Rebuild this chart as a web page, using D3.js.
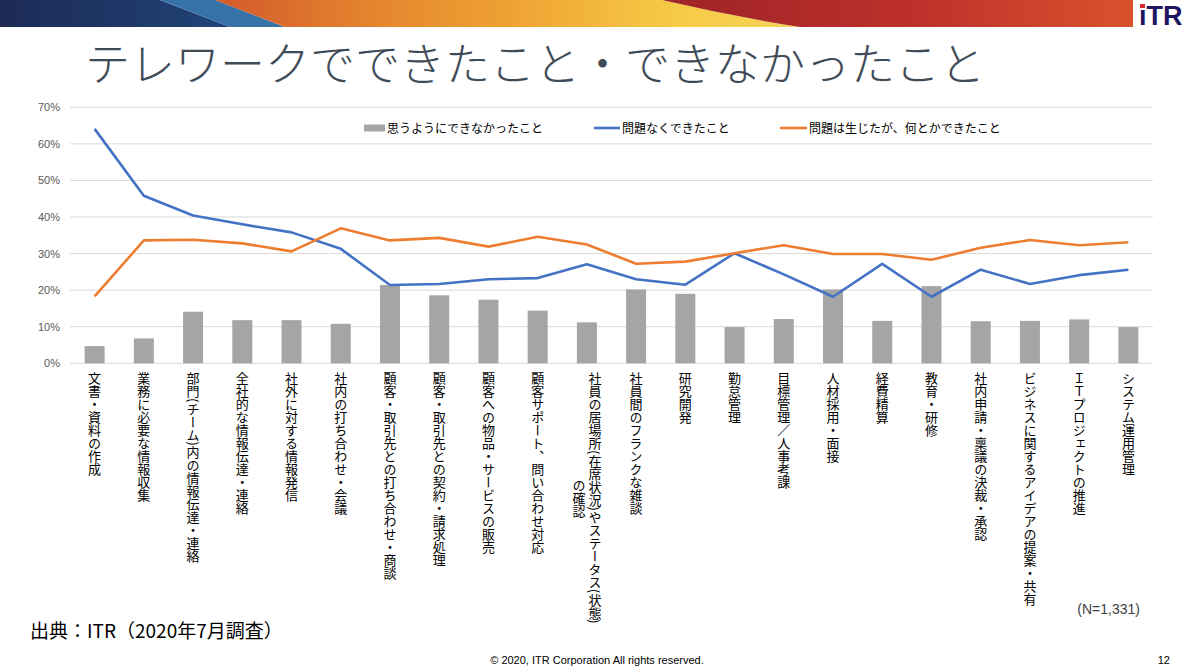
<!DOCTYPE html>
<html><head><meta charset="utf-8">
<script src="https://cdn.jsdelivr.net/npm/d3@7"></script>
<style>
html,body{margin:0;padding:0;background:#fff;}
svg{display:block;}
</style></head>
<body>
<svg id="c" width="1199" height="672"></svg>
<script>
const categories = [
  "文書・資料の作成","業務に必要な情報収集","部門(チーム)内の情報伝達・連絡","全社的な情報伝達・連絡",
  "社外に対する情報発信","社内の打ち合わせ・会議","顧客・取引先との打ち合わせ・商談","顧客・取引先との契約・請求処理",
  "顧客への物品・サービスの販売","顧客サポート、問い合わせ対応","社員の居場所(在席状況)やステータス(状態)\nの確認",
  "社員間のフランクな雑談","研究開発","勤怠管理","目標管理／人事考課","人材採用・面接","経費精算","教育・研修",
  "社内申請・稟議の決裁・承認","ビジネスに関するアイデアの提案・共有","ＩＴプロジェクトの推進","システム運用管理"
];
const notDone   = [4.7, 6.8, 14.1, 11.8, 11.8, 10.8, 21.4, 18.6, 17.4, 14.4, 11.2, 20.2, 19.0, 9.9, 12.1, 20.2, 11.6, 21.1, 11.5, 11.6, 12.0, 9.9];
const noProblem = [64.1, 45.8, 40.4, 38.0, 35.8, 31.3, 21.4, 21.7, 23.0, 23.3, 27.1, 23.0, 21.5, 30.1, 24.3, 18.2, 27.2, 18.2, 25.6, 21.7, 24.1, 25.6];
const managed   = [18.3, 33.6, 33.8, 32.8, 30.6, 36.9, 33.6, 34.3, 31.9, 34.6, 32.5, 27.2, 27.8, 30.1, 32.3, 29.9, 29.9, 28.3, 31.6, 33.7, 32.3, 33.1];
const yTicks = [0,10,20,30,40,50,60,70];
const seriesNames = ["思うようにできなかったこと","問題なくできたこと","問題は生じたが、何とかできたこと"];
const titleText = "テレワークでできたこと・できなかったこと";
const sourceText = "出典：ITR（2020年7月調査）";
const nText = "(N=1,331)";
const copyText = "© 2020, ITR Corporation  All rights reserved.";
const pageNo = "12";

const svg = d3.select("#c");
const JP = "'Noto Sans CJK JP','Noto Sans',sans-serif";
const LAT = "'Liberation Sans','Noto Sans',Arial,sans-serif";

// ---- banner ----
const defs = svg.append("defs");
function lg(id, stops){
  const g = defs.append("linearGradient").attr("id",id).attr("gradientUnits","userSpaceOnUse")
    .attr("x1",stops[0][0]).attr("x2",stops[stops.length-1][0]).attr("y1",0).attr("y2",0);
  stops.forEach(s=>g.append("stop").attr("offset",(s[0]-stops[0][0])/(stops[stops.length-1][0]-stops[0][0])).attr("stop-color",s[1]));
}
lg("gNavy",[[0,"#1d2a55"],[230,"#1f4478"]]);
lg("gOr",[[215,"#d35a2b"],[380,"#e5862e"],[520,"#efa434"],[680,"#f6cb46"],[800,"#f7d458"]]);
lg("gRed",[[660,"#9e2327"],[900,"#bb2f2b"],[1133,"#d9512c"]]);
const H = 27;
svg.append("path").attr("d",`M0,0 L160,0 L230,${H} L0,${H}Z`).attr("fill","url(#gNavy)");
svg.append("path").attr("d",`M160,0 L215,0 L285,${H} L230,${H}Z`).attr("fill","#3773a9");
svg.append("path").attr("d",`M215,0 L662,0 Q730,16 800,${H} L285,${H}Z`).attr("fill","url(#gOr)");
svg.append("path").attr("d",`M662,0 L1133,0 L1133,${H} L800,${H} Q730,16 662,0Z`).attr("fill","url(#gRed)");
// logo
svg.append("text").attr("x",1139).attr("y",25).attr("font-family","'Liberation Sans Narrow','Liberation Sans',sans-serif")
  .attr("font-weight","bold").attr("font-size",27).attr("fill","#1c1760").text("ıTR");
svg.append("rect").attr("x",1140).attr("y",4).attr("width",5).attr("height",4).attr("fill","#d22b2b");

// ---- title ----
svg.append("text").attr("x",85).attr("y",81).attr("font-family",JP).attr("font-weight",300)
  .attr("font-size",45).attr("fill","#3f4b57").attr("textLength",900).attr("lengthAdjust","spacingAndGlyphs").text(titleText);

// ---- chart ----
const x = d3.scaleBand().domain(categories).range([70,1153]).paddingInner(0).paddingOuter(0);
const y = d3.scaleLinear().domain([0,70]).range([363.3,107.3]);
const g = svg.append("g");

// grid
g.selectAll("line.grid").data(yTicks).join("line").attr("class","grid")
  .attr("x1",70).attr("x2",1153).attr("y1",d=>y(d)).attr("y2",d=>y(d))
  .attr("stroke","#d9d9d9").attr("stroke-width",1);

// y axis labels
const yAxis = d3.axisLeft(y).tickValues(yTicks).tickFormat(d=>d+"%").tickSize(0).tickPadding(0);
const ya = g.append("g").attr("transform","translate(60,0)").call(yAxis);
ya.select(".domain").remove();
ya.selectAll("text").attr("font-family",LAT).attr("font-size",11).attr("fill","#595959");

// bars
const bw = 20;
g.selectAll("rect.bar").data(notDone).join("rect").attr("class","bar")
  .attr("x",(d,i)=>x(categories[i])+x.bandwidth()/2-bw/2).attr("width",bw)
  .attr("y",d=>y(d)).attr("height",d=>y(0)-y(d)).attr("fill","#a5a5a5");

// lines
const line = d3.line().x((d,i)=>x(categories[i])+x.bandwidth()/2).y(d=>y(d));
g.append("path").datum(noProblem).attr("d",line).attr("fill","none").attr("stroke","#4472c4").attr("stroke-width",2.6).attr("stroke-linejoin","round");
g.append("path").datum(managed).attr("d",line).attr("fill","none").attr("stroke","#ed7d31").attr("stroke-width",2.6).attr("stroke-linejoin","round");

// x labels (vertical)
categories.forEach((c,i)=>{
  const cx = x(c)+x.bandwidth()/2;
  const parts = c.split("\n");
  if(parts.length===1){
    g.append("text").attr("x",cx).attr("y",372).attr("font-family",JP).attr("font-size",13)
      .attr("fill","#000").style("writing-mode","vertical-rl").text(c);
  } else {
    const t1 = g.append("text").attr("x",cx+8).attr("y",372).attr("font-family",JP).attr("font-size",13)
      .attr("fill","#000").style("writing-mode","vertical-rl").text(parts[0]);
    const len = t1.node().getComputedTextLength();
    g.append("text").attr("x",cx-8).attr("y",372+len/2).attr("text-anchor","middle").attr("font-family",JP).attr("font-size",13)
      .attr("fill","#000").style("writing-mode","vertical-rl").text(parts[1]);
    t1.attr("x",cx+8);
  }
});

// legend
const leg = svg.append("g").attr("font-family",JP).attr("font-size",12).attr("fill","#000");
leg.append("rect").attr("x",364).attr("y",124.5).attr("width",21).attr("height",7).attr("fill","#a5a5a5");
leg.append("text").attr("x",387).attr("y",132.5).text(seriesNames[0]);
leg.append("line").attr("x1",594).attr("x2",620).attr("y1",128).attr("y2",128).attr("stroke","#4472c4").attr("stroke-width",2.6);
leg.append("text").attr("x",622).attr("y",132.5).text(seriesNames[1]);
leg.append("line").attr("x1",780).attr("x2",807).attr("y1",128).attr("y2",128).attr("stroke","#ed7d31").attr("stroke-width",2.6);
leg.append("text").attr("x",809).attr("y",132.5).text(seriesNames[2]);

// footer
svg.append("text").attr("x",30).attr("y",638).attr("font-family",JP).attr("font-size",19).attr("fill","#000").text(sourceText);
svg.append("text").attr("x",1140).attr("y",614).attr("text-anchor","end").attr("font-family",LAT).attr("font-size",14).attr("fill","#404040").text(nText);
svg.append("text").attr("x",597).attr("y",664).attr("text-anchor","middle").attr("font-family",LAT).attr("font-size",11).attr("fill","#000").text(copyText);
svg.append("text").attr("x",1170).attr("y",664).attr("text-anchor","end").attr("font-family",LAT).attr("font-size",11).attr("fill","#000").text(pageNo);
</script>
</body></html>
